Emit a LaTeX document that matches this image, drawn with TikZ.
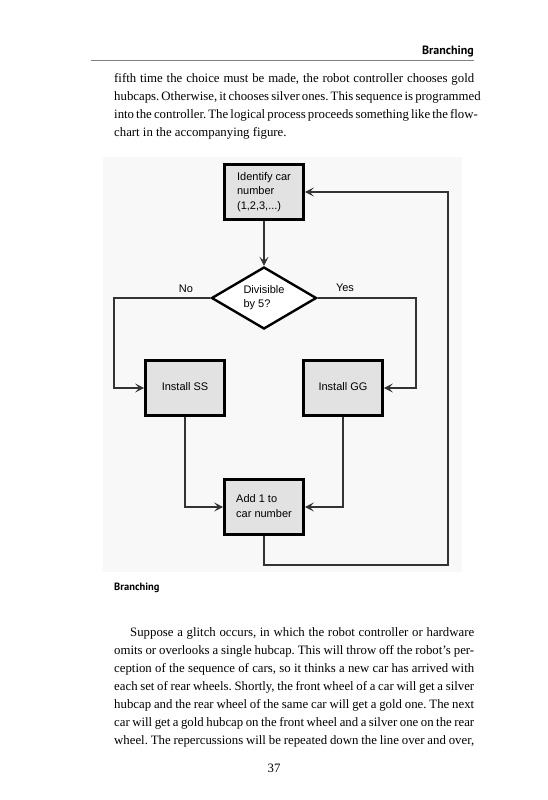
\documentclass[tikz,border=0pt]{standalone}
\usepackage{fontspec}
\setmainfont{Liberation Serif}
\newfontfamily\flowfont{Liberation Sans}
\newfontfamily\headfont{PT Sans}
\usetikzlibrary{arrows.meta,shapes.geometric}
\definecolor{boxgray}{HTML}{E2E2E2}
\definecolor{bggray}{HTML}{F8F8F8}
\definecolor{linegray}{HTML}{333333}
\frenchspacing
\newcommand{\bodyline}[1]{\makebox[360pt][s]{#1}}
\newcommand{\flowtext}[1]{\begin{tabular}{@{}l@{}}#1\end{tabular}}
\begin{document}
\begin{tikzpicture}[x=1pt,y=-1pt,
  body/.style={anchor=base west, inner sep=0pt, font=\fontsize{12.8}{18}\selectfont},
  head/.style={inner sep=0pt, font=\headfont\bfseries\fontsize{12}{14}\selectfont},
  box/.style={draw=black, line width=2.8pt, fill=boxgray, minimum width=79pt, minimum height=55.5pt, inner sep=0pt, font=\flowfont\fontsize{11}{14.5}\selectfont},
  decision/.style={diamond, draw=black, line width=2.4pt, fill=white, aspect=1.67, minimum width=105pt, minimum height=62pt, inner sep=0pt, font=\flowfont\fontsize{11}{13.5}\selectfont},
  lab/.style={inner sep=0pt, font=\flowfont\fontsize{11}{13}\selectfont},
  conn/.style={draw=linegray, line width=1.1pt},
  arr/.style={conn, -{Stealth[length=9pt,width=9pt,inset=4pt]}}
]
\useasboundingbox (0,0) rectangle (548,800);
\fill[white] (0,0) rectangle (548,800);
% header
\node[head, anchor=base east] (hdr) at (474,55) {Branching};
\draw[line width=0.6pt, draw=gray] (91,60) -- (474,60);
% first paragraph
\node[body] (a1) at (114,82) {\bodyline{fifth time the choice must be made, the robot controller chooses gold}};
\node[body] (a2) at (114,100) {\bodyline{hubcaps. Otherwise, it chooses silver ones. This sequence is programmed}};
\node[body] (a3) at (114,118) {\bodyline{into the controller. The logical process proceeds something like the flow-}};
\node[body] (a4) at (114,136) {chart in the accompanying figure.};
% figure background
\fill[bggray] (103,157) rectangle (462,572);
% nodes
\node[box] (id) at (264,192) {\flowtext{Identify car\\number\\(1,2,3,...)}};
\node[decision] (dec) at (264,298) {\flowtext{Divisible\\by 5?}};
\node[box] (ss) at (185,388) {\flowtext{Install SS}};
\node[box] (gg) at (343,388) {\flowtext{Install GG}};
\node[box] (add) at (264,507) {\flowtext{Add 1 to\\car number}};
\node[lab] (no) at (186,289) {No};
\node[lab] (yes) at (345,288) {Yes};
\coordinate (lc) at (114,298);
\coordinate (rc) at (416,298);
\coordinate (lp) at (448,565);
% connectors
\draw[arr] (id.south) -- (dec.north);
\draw[arr] (dec.west) -- (lc) |- (ss.west);
\draw[arr] (dec.east) -- (rc) |- (gg.east);
\draw[arr] (ss.south) |- (add.west);
\draw[arr] (gg.south) |- (add.east);
\draw[arr] (add.south) |- (lp) |- (id.east);
% caption
\node[head, anchor=base west, font=\headfont\bfseries\fontsize{10.5}{13}\selectfont] (cap) at (114,590) {Branching};
% second paragraph
\node[body] (b1) at (130,636) {\makebox[344pt][s]{Suppose a glitch occurs, in which the robot controller or hardware}};
\node[body] (b2) at (114,654) {\bodyline{omits or overlooks a single hubcap. This will throw off the robot’s per-}};
\node[body] (b3) at (114,672) {\bodyline{ception of the sequence of cars, so it thinks a new car has arrived with}};
\node[body] (b4) at (114,690) {\bodyline{each set of rear wheels. Shortly, the front wheel of a car will get a silver}};
\node[body] (b5) at (114,708) {\bodyline{hubcap and the rear wheel of the same car will get a gold one. The next}};
\node[body] (b6) at (114,726) {\bodyline{car will get a gold hubcap on the front wheel and a silver one on the rear}};
\node[body] (b7) at (114,744) {\bodyline{wheel. The repercussions will be repeated down the line over and over,}};
\node[body, anchor=base] (pg) at (274,772) {37};
\end{tikzpicture}
\end{document}
